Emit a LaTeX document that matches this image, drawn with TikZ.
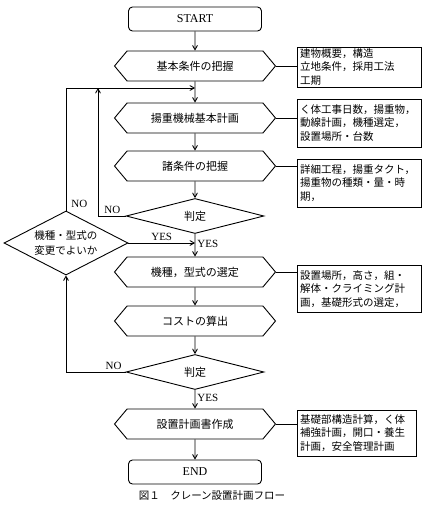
\documentclass[tikz,border=0pt]{standalone}
\usepackage{fontspec}
\setmainfont{Liberation Serif}
\newfontfamily\jp{Noto Sans CJK JP}
\usetikzlibrary{shapes.geometric, shapes.symbols, arrows}
\tikzstyle{startstop} = [rectangle, rounded corners=4bp, minimum width=133bp, minimum height=24bp, text centered, draw=black, font=\fontsize{12bp}{14bp}\selectfont]
\tikzstyle{process} = [signal, signal to=east and west, signal pointer angle=100, minimum width=161bp, minimum height=30bp, inner sep=0pt, text centered, draw=black, font=\jp\fontsize{11bp}{13bp}\selectfont]
\tikzstyle{decision} = [diamond, aspect=3.9, minimum width=138bp, minimum height=35bp, inner sep=0pt, text centered, draw=black, font=\jp\fontsize{11bp}{13bp}\selectfont]
\tikzstyle{note} = [rectangle, draw=black, text width=118bp, inner xsep=3bp, inner ysep=1bp, align=left, font=\jp\fontsize{10.5bp}{13.5bp}\selectfont]
\tikzstyle{tag} = [inner sep=2bp, font=\fontsize{11bp}{13bp}\selectfont]
\tikzstyle{arrow} = [->,>=angle 60]
\begin{document}
\begin{tikzpicture}[node distance=50bp, line width=0.9bp]
            \useasboundingbox (-195bp,19bp) rectangle (234bp,-491bp);
            \node (start) [startstop] {START};
            \node (hex1) [process, below of=start, yshift=3bp] {基本条件の把握};
            \node (hex2) [process, below of=hex1, yshift=-2bp] {揚重機械基本計画};
            \node (hex3) [process, below of=hex2, yshift=2bp] {諸条件の把握};
            \node (dec1) [decision, below of=hex3] {判定};
            \node (hex4) [process, below of=dec1, yshift=-6bp] {機種，型式の選定};
            \node (hex5) [process, below of=hex4, yshift=1bp] {コストの算出};
            \node (dec2) [decision, below of=hex5, yshift=-1bp] {判定};
            \node (hex6) [process, below of=dec2, yshift=-2bp] {設置計画書作成};
            \node (end) [startstop, below of=hex6, yshift=2bp] {END};
            \node (cap) [below of=end, xshift=17bp, yshift=26bp, font=\jp\fontsize{10.5bp}{12bp}\selectfont] {図１　クレーン設置計画フロー};
            \node (chk) [decision, aspect=1.94, minimum width=124bp, minimum height=64bp, left of=dec1, xshift=-79bp, yshift=-27bp, align=center, font=\jp\fontsize{10.5bp}{15bp}\selectfont] {機種・型式の\\変更でよいか};

            \node (note1) [note, right of=hex1, xshift=114bp, yshift=-1bp, minimum height=40bp] {建物概要，構造\\立地条件，採用工法\\工期};
            \node (note2) [note, right of=hex2, xshift=114bp, yshift=-5bp, minimum height=48bp] {く体工事日数，揚重物，\\動線計画，機種選定，\\設置場所・台数};
            \node (note3) [note, right of=hex3, xshift=114bp, yshift=-17bp, minimum height=48bp] {詳細工程，揚重タクト，\\揚重物の種類・量・時\\期，};
            \node (note4) [note, right of=hex4, xshift=114bp, yshift=-17bp, minimum height=47bp] {設置場所，高さ，組・\\解体・クライミング計\\画，基礎形式の選定，};
            \node (note6) [note, right of=hex6, xshift=111.5bp, yshift=-9bp, text width=113bp, minimum height=46bp] {基礎部構造計算，く体\\補強計画，開口・養生\\計画，安全管理計画};

            \coordinate (loop) at ([yshift=-22bp]hex1.center);
            \coordinate (nojoin) at ([xshift=-97bp]loop);
            \coordinate (yesin) at ([yshift=-27bp]dec1.center);

            \draw [arrow] (start) -- (hex1);
            \draw [arrow] (hex1) -- (hex2);
            \draw [arrow] (hex2) -- (hex3);
            \draw [arrow] (hex3) -- (dec1);
            \draw [arrow] (dec1) -- node[tag, anchor=west, pos=0.45] {YES} (hex4);
            \draw [arrow] (hex4) -- (hex5);
            \draw [arrow] (hex5) -- (dec2);
            \draw [arrow] (dec2) -- node[tag, anchor=west, pos=0.45] {YES} (hex6);
            \draw [arrow] (hex6) -- (end);
            \draw (hex1.east) -- (hex1.east -| note1.west);
            \draw (hex2.east) -- (hex2.east -| note2.west);
            \draw (hex3.east) -- (hex3.east -| note3.west);
            \draw (hex4.east) -- (hex4.east -| note4.west);
            \draw (hex6.east) -- (hex6.east -| note6.west);
            \draw [arrow] (dec1.west) -| node[tag, anchor=south, pos=0.24] {NO} (nojoin);
            \draw [arrow] (chk.north) |- node[tag, anchor=south west, pos=0, xshift=3bp] {NO} (loop);
            \draw [arrow] (chk.east) -- node[tag, anchor=south] {YES} (yesin);
            \draw [arrow] (dec2.west) -| node[tag, anchor=south, pos=0.1] {NO} (chk.south);
        \end{tikzpicture}
\end{document}
